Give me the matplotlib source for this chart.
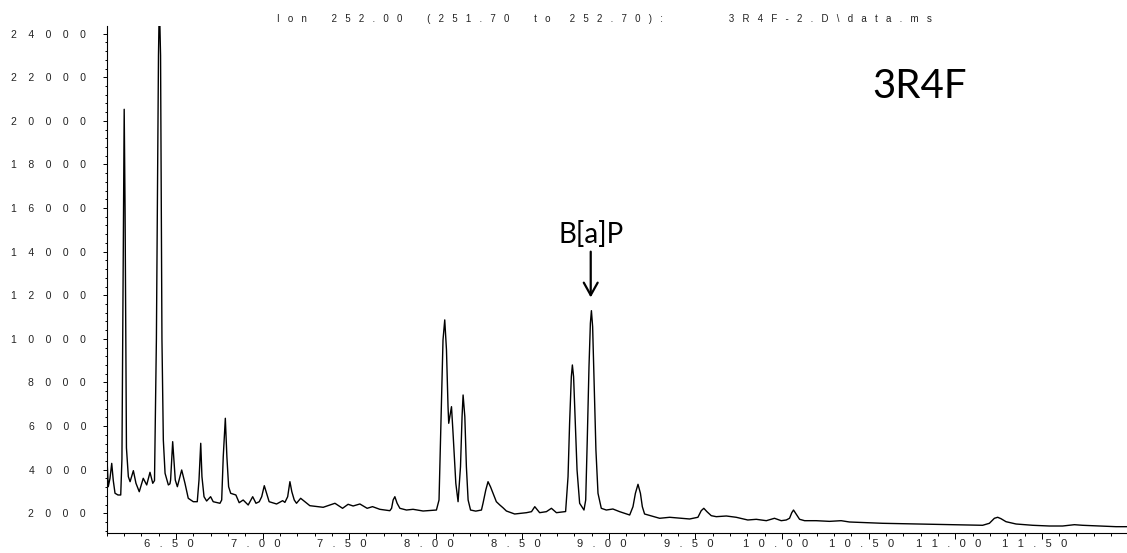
import matplotlib
matplotlib.use("Agg")
import matplotlib.pyplot as plt
from matplotlib.ticker import MultipleLocator
from matplotlib.transforms import ScaledTranslation

# chromatogram trace (retention time in min, abundance)
time_min = [6.100, 6.109, 6.119, 6.129, 6.138, 6.148, 6.165, 6.181, 6.188, 6.197,
            6.201, 6.206, 6.214, 6.225, 6.235, 6.254, 6.269, 6.288, 6.311, 6.331,
            6.350, 6.366, 6.376, 6.387, 6.399, 6.404, 6.411, 6.419, 6.427, 6.437,
            6.456, 6.465, 6.469, 6.475, 6.481, 6.488, 6.496, 6.508, 6.533, 6.552,
            6.571, 6.600, 6.623, 6.633, 6.643, 6.650, 6.662, 6.677, 6.700, 6.715,
            6.754, 6.764, 6.773, 6.785, 6.794, 6.804, 6.816, 6.846, 6.865, 6.888,
            6.917, 6.943, 6.962, 6.981, 6.995, 7.010, 7.023, 7.038, 7.081, 7.116,
            7.129, 7.145, 7.158, 7.169, 7.183, 7.196, 7.220, 7.244, 7.273, 7.350,
            7.418, 7.462, 7.494, 7.523, 7.562, 7.604, 7.635, 7.677, 7.735, 7.745,
            7.754, 7.764, 7.777, 7.793, 7.831, 7.869, 7.927, 8.004, 8.019, 8.033,
            8.042, 8.052, 8.062, 8.071, 8.075, 8.091, 8.100, 8.116, 8.129, 8.143,
            8.152, 8.158, 8.168, 8.177, 8.187, 8.201, 8.231, 8.264, 8.273, 8.289,
            8.302, 8.316, 8.331, 8.350, 8.370, 8.389, 8.408, 8.456, 8.524, 8.553,
            8.572, 8.600, 8.639, 8.668, 8.697, 8.750, 8.764, 8.773, 8.783, 8.789,
            8.796, 8.806, 8.816, 8.831, 8.856, 8.866, 8.875, 8.885, 8.893, 8.899,
            8.906, 8.916, 8.925, 8.937, 8.956, 8.985, 9.023, 9.062, 9.120, 9.139,
            9.153, 9.168, 9.182, 9.193, 9.206, 9.293, 9.351, 9.466, 9.514, 9.533,
            9.548, 9.566, 9.591, 9.620, 9.678, 9.735, 9.802, 9.851, 9.909, 9.956,
            9.995, 10.024, 10.043, 10.056, 10.066, 10.082, 10.101, 10.130, 10.197, 10.274,
            10.341, 10.389, 10.581, 10.774, 10.966, 11.158, 11.197, 11.226, 11.245, 11.264,
            11.293, 11.351, 11.447, 11.543, 11.620, 11.688, 11.735, 11.832, 11.928, 11.988]
abundance = [4800, 3220, 3600, 4290, 3500, 2920, 2840, 2840, 4500, 16000,
             20530, 16000, 5000, 3680, 3450, 3955, 3376, 2990, 3605, 3300,
             3880, 3376, 3500, 10000, 23000, 25500, 23000, 10000, 5360, 3835,
             3300, 3350, 3527, 4445, 5285, 4445, 3527, 3220, 3986, 3376,
             2688, 2532, 2532, 3527, 5211, 3679, 2761, 2564, 2761, 2532,
             2459, 2610, 4596, 6358, 4596, 3220, 2917, 2840, 2486, 2610,
             2381, 2761, 2459, 2532, 2761, 3266, 2917, 2532, 2427, 2578,
             2500, 2761, 3450, 2990, 2610, 2459, 2688, 2532, 2349, 2275,
             2459, 2229, 2413, 2335, 2427, 2229, 2305, 2183, 2119, 2229,
             2610, 2761, 2459, 2229, 2150, 2183, 2105, 2150, 2610, 7200,
             9950, 10870, 9500, 6890, 6128, 6890, 5670, 3376, 2532, 4137,
             6430, 7426, 6430, 4137, 2610, 2150, 2100, 2150, 2459, 3069,
             3450, 3220, 2917, 2532, 2381, 2250, 2105, 1968, 2028, 2075,
             2303, 2028, 2075, 2229, 2028, 2080, 3679, 6128, 8266, 8803,
             8266, 6128, 3986, 2459, 2150, 2610, 5362, 8725, 10715, 11293,
             10560, 7656, 4904, 2917, 2229, 2150, 2197, 2075, 1922, 2303,
             2917, 3330, 2917, 2303, 1968, 1771, 1817, 1739, 1817, 2119,
             2229, 2075, 1891, 1845, 1876, 1817, 1693, 1724, 1661, 1771,
             1661, 1693, 1771, 2028, 2150, 1954, 1725, 1661, 1661, 1630,
             1661, 1601, 1541, 1509, 1477, 1450, 1541, 1771, 1817, 1753,
             1615, 1509, 1450, 1417, 1417, 1477, 1450, 1417, 1386, 1386]

x_ticks = [6.5, 7.0, 7.5, 8.0, 8.5, 9.0, 9.5, 10.0, 10.5, 11.0, 11.5]
x_tick_labels = ["6.50", "7.00", "7.50", "8.00", "8.50", "9.00", "9.50",
                 "10.00", "10.50", "11.00", "11.50"]
y_ticks = [2000, 4000, 6000, 8000, 10000, 12000, 14000, 16000, 18000,
           20000, 22000, 24000]

title_words = ["Ion", "252.00", "(251.70", "to", "252.70):", "3R4F-2.D\\data.ms"]
title_gaps = [9, 9, 9, 7, 24]
sample_label = "3R4F"
peak_label = "B[a]P"
peak_time = 8.895


def spread(s, gap=1):
    # instrument software prints the labels letter-spaced
    return (" " * gap).join(s)


sans = ["Liberation Sans", "DejaVu Sans"]

fig = plt.figure(figsize=(11.27, 5.53), dpi=100)
ax = fig.add_axes([106.7 / 1127, 20.3 / 553, 1020 / 1127, 506.7 / 553])

ax.plot(time_min, abundance, color="black", lw=1.0)

ax.set_xlim(6.1, 11.99)
ax.set_ylim(1110, 24350)

for side in ["top", "right"]:
    ax.spines[side].set_visible(False)
for side in ["left", "bottom"]:
    ax.spines[side].set_linewidth(0.8)

ax.set_xticks(x_ticks, [spread(t, 3) for t in x_tick_labels])
ax.xaxis.set_minor_locator(MultipleLocator(0.1))
ax.set_yticks(y_ticks, [spread(str(v), 4) for v in y_ticks])
ax.yaxis.set_minor_locator(MultipleLocator(400))

ax.tick_params(axis="x", which="major", length=4.3, width=0.7, pad=0.5,
               direction="out", labelsize=8)
ax.tick_params(axis="x", which="minor", length=2.4, width=0.7, direction="out")
ax.tick_params(axis="y", which="major", length=2.9, width=0.7, pad=12,
               direction="out", labelsize=7.5)
ax.tick_params(axis="y", which="minor", length=1.7, width=0.7, direction="out")

shift = ScaledTranslation(-7 / 100, 0, fig.dpi_scale_trans)
for lab in ax.get_xticklabels():
    lab.set_fontfamily(sans)
    lab.set_color("#222222")
    lab.set_transform(lab.get_transform() + shift)
for lab in ax.get_yticklabels():
    lab.set_fontfamily(sans)
    lab.set_color("#222222")

title = spread(title_words[0], 3)
for gap, word in zip(title_gaps, title_words[1:]):
    title += " " * gap + spread(word, 3)
fig.text(277 / 1127, 1 - 22 / 553, title, ha="left", va="baseline",
         fontsize=7, family=sans, color="#222222")

ax.text(10.793, 21050, sample_label, ha="center", va="baseline",
        fontsize=29, family=["Lato", "DejaVu Sans"])
ax.text(peak_time + 0.003, 14400, peak_label, ha="center", va="baseline",
        fontsize=20, family=["Lato", "DejaVu Sans"])
ax.annotate("", xy=(peak_time, 11900), xytext=(peak_time, 14000),
            arrowprops=dict(arrowstyle="->,head_length=0.9,head_width=0.5",
                            lw=1.6, color="black", shrinkA=0, shrinkB=0))

fig.savefig("out.png", dpi=100)
